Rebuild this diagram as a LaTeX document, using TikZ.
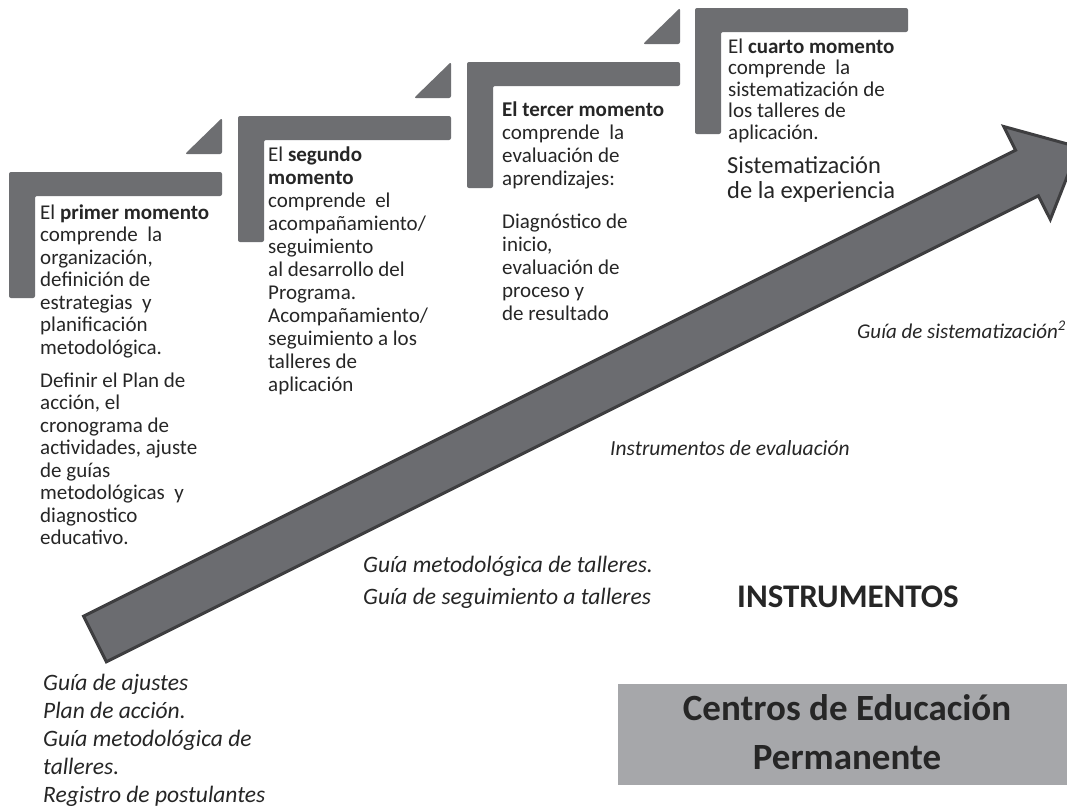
\documentclass[tikz,border=0pt]{standalone}
\usepackage{fontspec}
\setmainfont{Carlito}
\definecolor{stepgray}{RGB}{109,110,113}
\definecolor{arrowfill}{RGB}{107,108,112}
\definecolor{arrowline}{RGB}{62,62,64}
\definecolor{boxgray}{RGB}{166,167,170}
\definecolor{txtcol}{RGB}{38,38,38}
\newcommand\tst{\rule{0pt}{16pt}}
\newcommand\mystepL[2]{%
  \fill[stepshape] (#1,#2) -- ++(213,0) -- ++(0,24) -- ++(-187,0) -- ++(0,102) -- ++(-26,0) -- cycle;
  \fill[stepshape] (#1+213,#2-18) -- ++(0,-36) -- ++(-37,36) -- cycle;
}
\tikzset{
  stepshape/.style={fill=stepgray, rounded corners=2pt},
  arrowstyle/.style={fill=arrowfill, draw=arrowline, line width=3pt, line join=miter},
  txt/.style={anchor=north west, inner sep=0pt, align=left, text=txtcol, font=\fontsize{21}{22.5}\selectfont},
  itxt/.style={inner sep=0pt, align=left, text=txtcol, font=\fontsize{21.5}{28}\selectfont\itshape},
  bigitxt/.style={itxt, anchor=north west, font=\fontsize{23.5}{28}\selectfont\itshape},
}
\begin{document}
\begin{tikzpicture}[x=1pt,y=-1pt]
\useasboundingbox (0,0) rectangle (1067,807);
\clip (0,0) rectangle (1067,807);
\fill[white] (0,0) rectangle (1067,807);

% steps
\mystepL{9}{172}
\mystepL{238}{116}
\mystepL{467}{62}
\mystepL{695}{8}

% big arrow
\filldraw[arrowstyle] (83.6,616.2) -- (1015.6,150.2) -- (1003.7,126.5) -- (1078.8,147.1) -- (1050.3,219.5) -- (1038.4,195.8) -- (106.4,661.8) -- cycle;

% step texts
\node[txt] (m1) at (40,203) {\tst El \textbf{primer momento}\\ comprende\ \ la\\ organización,\\ definición de\\ estrategias\ \ y\\ planificación\\ metodológica.\\[10.5pt] Definir el Plan de\\ acción, el\\ cronograma de\\ actividades, ajuste\\ de guías\\ metodológicas\ \ y\\ diagnostico\\ educativo.};

\node[txt, font=\fontsize{21}{23}\selectfont] (m2) at (268,145) {\tst El \textbf{segundo}\\ \textbf{momento}\\ comprende\ \ el\\ acompañamiento/\\ seguimiento\\ al desarrollo del\\ Programa.\\ Acompañamiento/\\ seguimiento a los\\ talleres de\\ aplicación};

\node[txt, font=\fontsize{21}{23}\selectfont] (m3) at (502,100) {\tst\textbf{El tercer momento}\\ comprende\ \ la\\ evaluación de\\ aprendizajes:\\[20pt] Diagnóstico de\\ inicio,\\ evaluación de\\ proceso y\\ de resultado};

\node[txt, font=\fontsize{21}{21.5}\selectfont] (m4) at (728,37) {\tst El \textbf{cuarto momento}\\ comprende\ \ la\\ sistematización de\\ los talleres de\\ aplicación.};

\node[txt, font=\fontsize{24.5}{25}\selectfont] (m4b) at (727,154) {\rule{0pt}{19pt}Sistematización\\ de la experiencia};

% instruments
\node[itxt, anchor=west, font=\fontsize{21}{28}\selectfont\itshape] (i4) at (857,330) {Guía de sistematización\textsuperscript{2}};
\node[itxt, anchor=west] (i3) at (610,448) {Instrumentos de evaluación};
\node[bigitxt, font=\fontsize{23.5}{32}\selectfont\itshape] (i2) at (363,554) {\rule{0pt}{18pt}Guía metodológica de talleres.\\ Guía de seguimiento a talleres};
\node[bigitxt] (i1) at (43,672) {\rule{0pt}{18pt}Guía de ajustes\\ Plan de acción.\\ Guía metodológica de\\ talleres.\\ Registro de postulantes};

\node[inner sep=0pt, text=txtcol, font=\fontsize{33}{33}\selectfont\bfseries] (ins) at (848,597) {INSTRUMENTOS};

% box
\fill[boxgray] (618,684) rectangle (1070,785);
\node[inner sep=0pt, align=center, text=txtcol, font=\fontsize{37}{49}\selectfont\bfseries] (cep) at (847,732) {Centros de Educación\\ Permanente};
\end{tikzpicture}
\end{document}
